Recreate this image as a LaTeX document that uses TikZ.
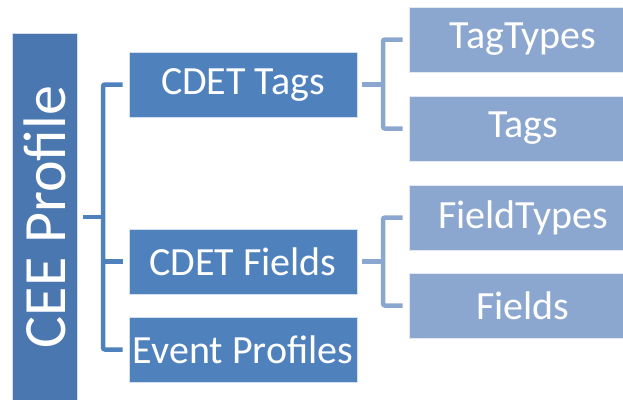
\documentclass[tikz,border=0pt]{standalone}
\usepackage{fontspec}
\setmainfont{Carlito}
\usetikzlibrary{positioning}

\definecolor{ceeblue}{HTML}{4A77AF}
\definecolor{midblue}{HTML}{4F81BD}
\definecolor{lightblue}{HTML}{8CA7CF}

\begin{document}
\begin{tikzpicture}[x=1pt,y=-1pt,
    box/.style={fill=midblue, draw=white!75!midblue, line width=0.6pt, text=white,
        font=\fontsize{40}{42}\selectfont, inner sep=0pt,
        minimum width=228pt, minimum height=65pt},
    subbox/.style={box, fill=lightblue, draw=white!75!lightblue},
    link/.style={draw=midblue, line width=4.5pt, rounded corners=2pt},
    sublink/.style={link, draw=lightblue}]

            \clip (0,0) rectangle (623,399);

            % 左侧竖条
            \node[box, fill=ceeblue, draw=white!75!ceeblue, minimum width=65pt, minimum height=380pt] (cee) at (44.5,223) {};
            \node[rotate=90, text=white, font=\fontsize{60}{62}\selectfont] (ceetext) at (44.5,217) {CEE Profile};

            % 中间一列
            \node[box] (cdettags) at (243,84.5) {CDET Tags};
            \node[box] (cdetfields) at (243,261.5) {CDET Fields};
            \node[box] (events) at (243,349.5) {Event Profiles};

            % 右侧一列
            \node[subbox] (tagtypes) at (523,39.5) {TagTypes};
            \node[subbox] (tags) at (523,128.5) {Tags};
            \node[subbox] (fieldtypes) at (523,217.5) {FieldTypes};
            \node[subbox] (fields) at (523,305.5) {Fields};

            % 括号连线
            \coordinate (b1) at (103,217);
            \coordinate (b2) at (383,84);
            \coordinate (b3) at (383,262);

            \draw[link] ([xshift=6pt]cee.east |- b1) -- (b1);
            \draw[link] ([xshift=-6pt]cdettags.west) -| (b1) |- ([xshift=-6pt]events.west);
            \draw[link] (b1 |- cdetfields.west) -- ([xshift=-6pt]cdetfields.west);

            \draw[sublink] ([xshift=5pt]cdettags.east) -- (b2 |- cdettags.east);
            \draw[sublink] ([xshift=-6pt]tagtypes.west) -| (b2) |- ([xshift=-6pt]tags.west);

            \draw[sublink] ([xshift=5pt]cdetfields.east) -- (b3 |- cdetfields.east);
            \draw[sublink] ([xshift=-6pt]fieldtypes.west) -| (b3) |- ([xshift=-6pt]fields.west);

\end{tikzpicture}
\end{document}
